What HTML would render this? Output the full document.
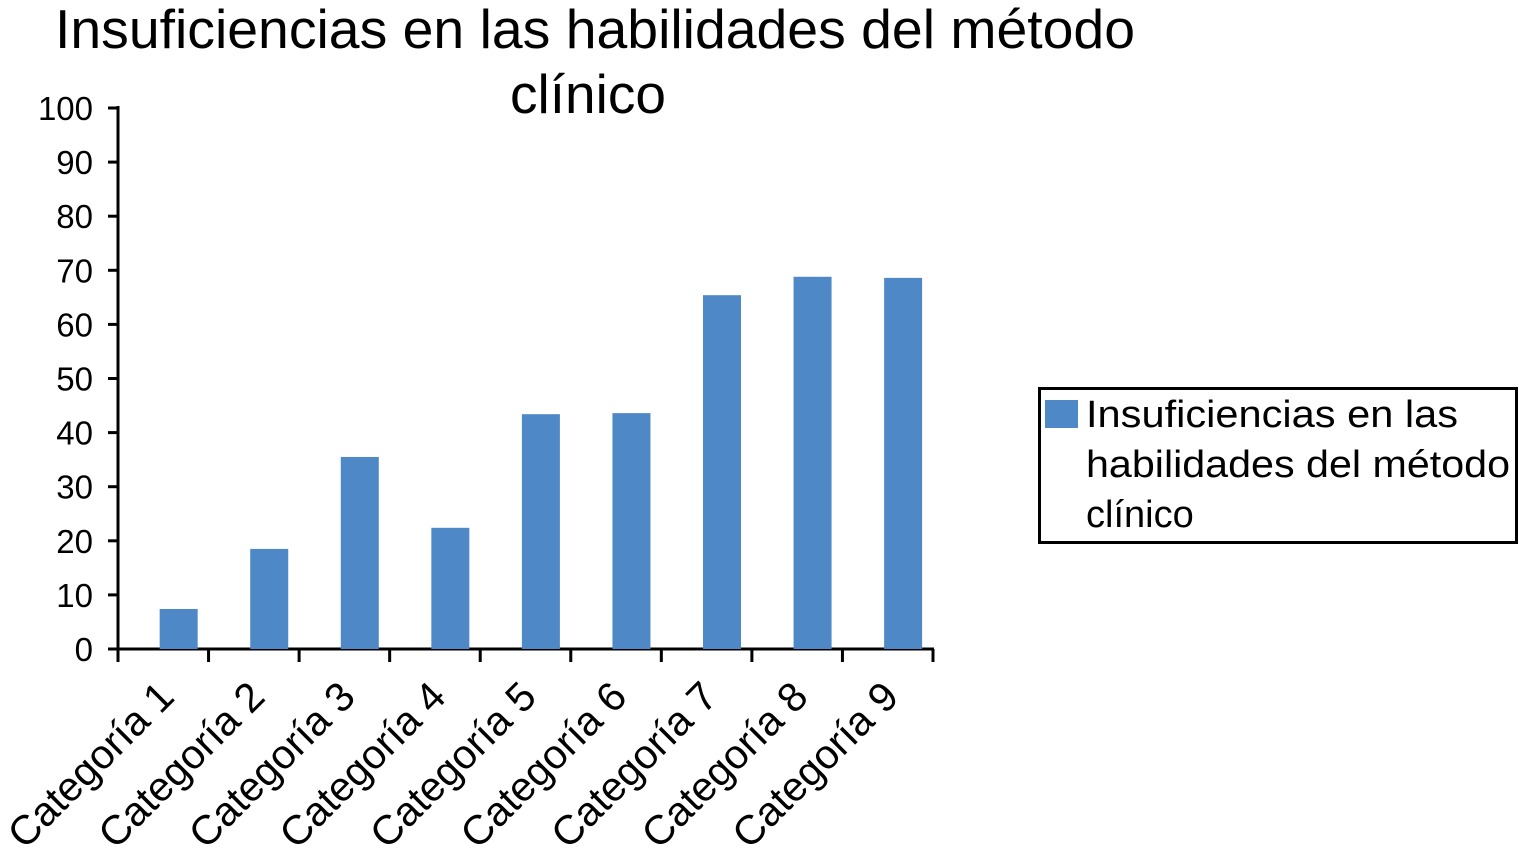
<!DOCTYPE html>
<html><head><meta charset="utf-8"><style>
html,body{margin:0;padding:0;background:#fff}
svg{display:block;font-family:"Liberation Sans",Arial,sans-serif}
</style></head><body>
<svg id="chart" width="1519" height="862" viewBox="0 0 1519 862">
<g>
<text x="595" y="48" font-size="55" text-anchor="middle" textLength="1080" lengthAdjust="spacingAndGlyphs">Insuficiencias en las habilidades del método</text>
<text x="588" y="113" font-size="55" text-anchor="middle">clínico</text>
</g>
<g id="axes"></g>
<g id="bars"></g>
<g>
<rect x="1039.5" y="388.5" width="477" height="154" fill="#fff" stroke="#000" stroke-width="3"/>
<rect x="1045" y="400" width="33" height="28" fill="#4f88c6"/>
<text x="1086" y="427" font-size="38"><tspan x="1086" textLength="372" lengthAdjust="spacingAndGlyphs">Insuficiencias en las</tspan><tspan x="1086" dy="50" textLength="424" lengthAdjust="spacingAndGlyphs">habilidades del método</tspan><tspan x="1086" dy="50">clínico</tspan></text>
</g>
</svg>
<script>
const categories=["Categoría 1","Categoría 2","Categoría 3","Categoría 4","Categoría 5","Categoría 6","Categoría 7","Categoría 8","Categoría 9"];
const values=[7.4,18.5,35.5,22.4,43.4,43.6,65.4,68.8,68.6];
const yTicks=[0,10,20,30,40,50,60,70,80,90,100];
const NS="http://www.w3.org/2000/svg";
const x0=118,x1=933,y0=649,y1=108,yMax=100;
const band=(x1-x0)/categories.length;
const ys=v=>y0-(v/yMax)*(y0-y1);
const xs=i=>x0+band*i;
function mk(t,a,p){const e=document.createElementNS(NS,t);for(const k in a)e.setAttribute(k,a[k]);p.appendChild(e);return e;}
const ax=document.getElementById('axes'),bg=document.getElementById('bars');
const yl=mk('line',{x1:x0,y1:y1-2,x2:x0,y2:y0+1,stroke:'#000','stroke-width':3},ax);


const xl=mk('line',{x1:x0-1,y1:y0,x2:x1+1,y2:y0,stroke:'#000','stroke-width':3},ax);


yTicks.forEach(t=>{
 const y=ys(t);
 mk('line',{x1:x0-10,y1:y,x2:x0,y2:y,stroke:'#000','stroke-width':3},ax);
 const tx=mk('text',{x:93,y:y+12,'font-size':33,'text-anchor':'end'},ax);
 tx.textContent=t;
 
 
});
for(let i=0;i<=categories.length;i++){
 mk('line',{x1:xs(i),y1:y0,x2:xs(i),y2:y0+13,stroke:'#000','stroke-width':3},ax);
}
categories.forEach((c,i)=>{
 const cx=xs(i)+band*0.67;
 const r=mk('rect',{x:cx-19,y:ys(values[i]),width:38,height:y0-ys(values[i]),fill:'#4f88c6'},bg);
 
 
 const lx=xs(i)+band/2;
 const tx=mk('text',{x:0,y:0,'font-size':41,'text-anchor':'end',transform:`translate(${lx+13},${y0+50}) rotate(-45)`},ax);
 tx.textContent=c;
 
 
});
</script>
</body></html>
